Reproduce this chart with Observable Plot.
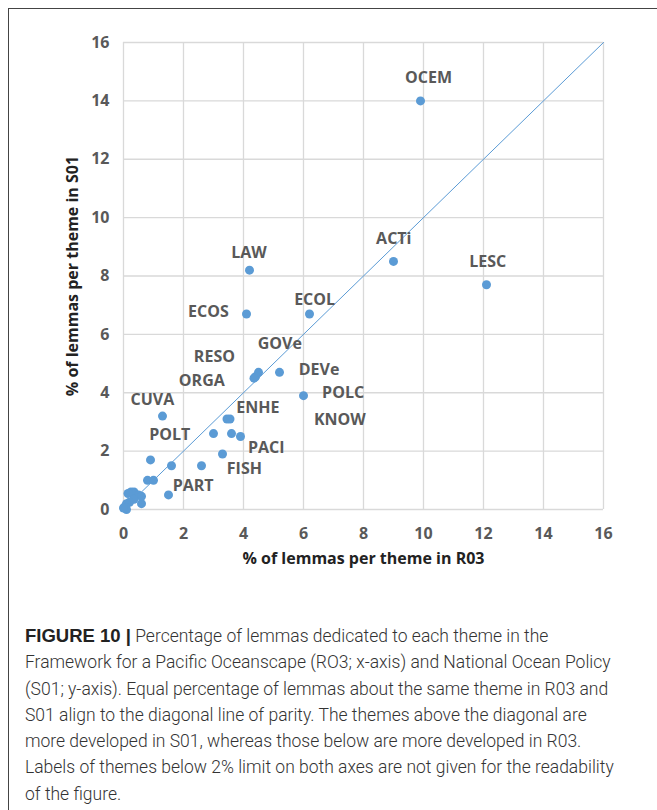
<!DOCTYPE html>
<html>
<head>
<meta charset="utf-8">
<script src="https://cdn.jsdelivr.net/npm/d3@7"></script>
<script src="https://cdn.jsdelivr.net/npm/@observablehq/plot@0.6"></script>
<style>
  html, body { margin: 0; padding: 0; background: #fff; }
  body { width: 657px; height: 810px; position: relative; overflow: hidden; }
  #frame { position: absolute; left: 8px; top: 8px; width: 700px; height: 900px;
           border-left: 1px solid #444; border-top: 1px solid #444; }
  #chart { position: absolute; left: 0; top: 0; }
  #caption { position: absolute; left: 25px; top: 623px; font-family: Roboto, "Liberation Sans", sans-serif;
             font-size: 17.5px; line-height: 26.3px; color: #333; white-space: nowrap; font-weight: 300; }
  #caption b { font-family: "Liberation Sans", Arial, sans-serif; font-size: 18.5px; font-weight: 700; color: #222; }
</style>
</head>
<body>
<div id="frame"></div>
<div id="chart"></div>
<div id="caption">
<b>FIGURE 10 |</b> Percentage of lemmas dedicated to each theme in the<br>
Framework for a Pacific Oceanscape (RO3; x-axis) and National Ocean Policy<br>
(S01; y-axis). Equal percentage of lemmas about the same theme in R03 and<br>
S01 align to the diagonal line of parity. The themes above the diagonal are<br>
more developed in S01, whereas those below are more developed in R03.<br>
Labels of themes below 2% limit on both axes are not given for the readability<br>
of the figure.
</div>
<script>
// Values: % of lemmas per theme in R03 (x) and S01 (y)
const r03 = [9.9, 9.0, 12.1, 4.2, 4.1, 6.2, 4.5, 4.4, 4.35, 5.2, 6.0, 1.3, 3.45, 3.55, 3.0, 3.6, 3.9, 3.3, 2.6, 1.6, 0.9, 0.8, 1.0, 1.5, 0.6, 0.25, 0.35, 0.15, 0.5, 0.6, 0.35, 0.2, 0.1, 0.05, 0.1, 0.0];
const s01 = [14.0, 8.5, 7.7, 8.2, 6.7, 6.7, 4.7, 4.55, 4.5, 4.7, 3.9, 3.2, 3.1, 3.1, 2.6, 2.6, 2.5, 1.9, 1.5, 1.5, 1.7, 1.0, 1.0, 0.5, 0.2, 0.6, 0.6, 0.55, 0.5, 0.45, 0.35, 0.25, 0.2, 0.1, 0.0, 0.05];

// Theme labels and where they sit (data units)
const labelText = ["OCEM", "ACTi", "LESC", "LAW", "ECOS", "ECOL", "GOVe", "RESO", "ORGA", "DEVe", "POLC", "KNOW", "CUVA", "ENHE", "POLT", "PACI", "FISH", "PART"];
const labelX = [10.17, 9.01, 12.14, 4.18, 2.83, 6.37, 5.21, 3.03, 2.61, 6.52, 7.32, 7.21, 0.96, 4.48, 1.54, 4.76, 4.03, 2.32];
const labelY = [14.8, 9.27, 8.47, 8.79, 6.78, 7.18, 5.68, 5.24, 4.39, 4.80, 3.99, 3.08, 3.76, 3.48, 2.56, 2.10, 1.39, 0.82];

const ticks = [0, 2, 4, 6, 8, 10, 12, 14, 16];
const parity = [0, 16];
const xTitle = "% of lemmas per theme in R03";
const yTitle = "% of lemmas per theme in S01";

const points = r03.map((x, i) => ({x, y: s01[i]}));
const labels = labelText.map((t, i) => ({t, x: labelX[i], y: labelY[i]}));

const font = "'Open Sans', 'DejaVu Sans', sans-serif";
const blue = "#5b9bd5";

const plot = Plot.plot({
  width: 657,
  height: 600,
  marginLeft: 123,
  marginRight: 54,
  marginTop: 42,
  marginBottom: 91,
  style: {fontFamily: font, background: "transparent"},
  x: {domain: [0, 16], ticks, label: null},
  y: {domain: [0, 16], ticks, label: null},
  marks: [
    Plot.gridX(ticks, {stroke: "#d9d9d9", strokeOpacity: 1, strokeWidth: 1.3}),
    Plot.gridY(ticks, {stroke: "#d9d9d9", strokeOpacity: 1, strokeWidth: 1.3}),
    Plot.axisX(ticks, {tickSize: 0, tickPadding: 18, fontSize: 16, fontWeight: "bold", fill: "#595959", label: null}),
    Plot.axisY(ticks, {tickSize: 0, tickPadding: 14, fontSize: 16, fontWeight: "bold", fill: "#595959", label: null}),
    Plot.line(parity, {x: d => d, y: d => d, stroke: blue, strokeWidth: 1}),
    Plot.dot(points, {x: "x", y: "y", r: 4.5, fill: blue, stroke: "none"}),
    Plot.text(labels, {x: "x", y: "y", text: "t", fill: "#595959", fontSize: 16, fontWeight: "bold"}),
    Plot.text([xTitle], {frameAnchor: "bottom", textAnchor: "middle", dy: 54, fontSize: 16, fontWeight: "bold", fill: "#222"}),
    Plot.text([yTitle], {frameAnchor: "left", textAnchor: "middle", dx: -51, rotate: -90, fontSize: 16, fontWeight: "bold", fill: "#222"})
  ]
});
document.getElementById("chart").appendChild(plot);
</script>
</body>
</html>
